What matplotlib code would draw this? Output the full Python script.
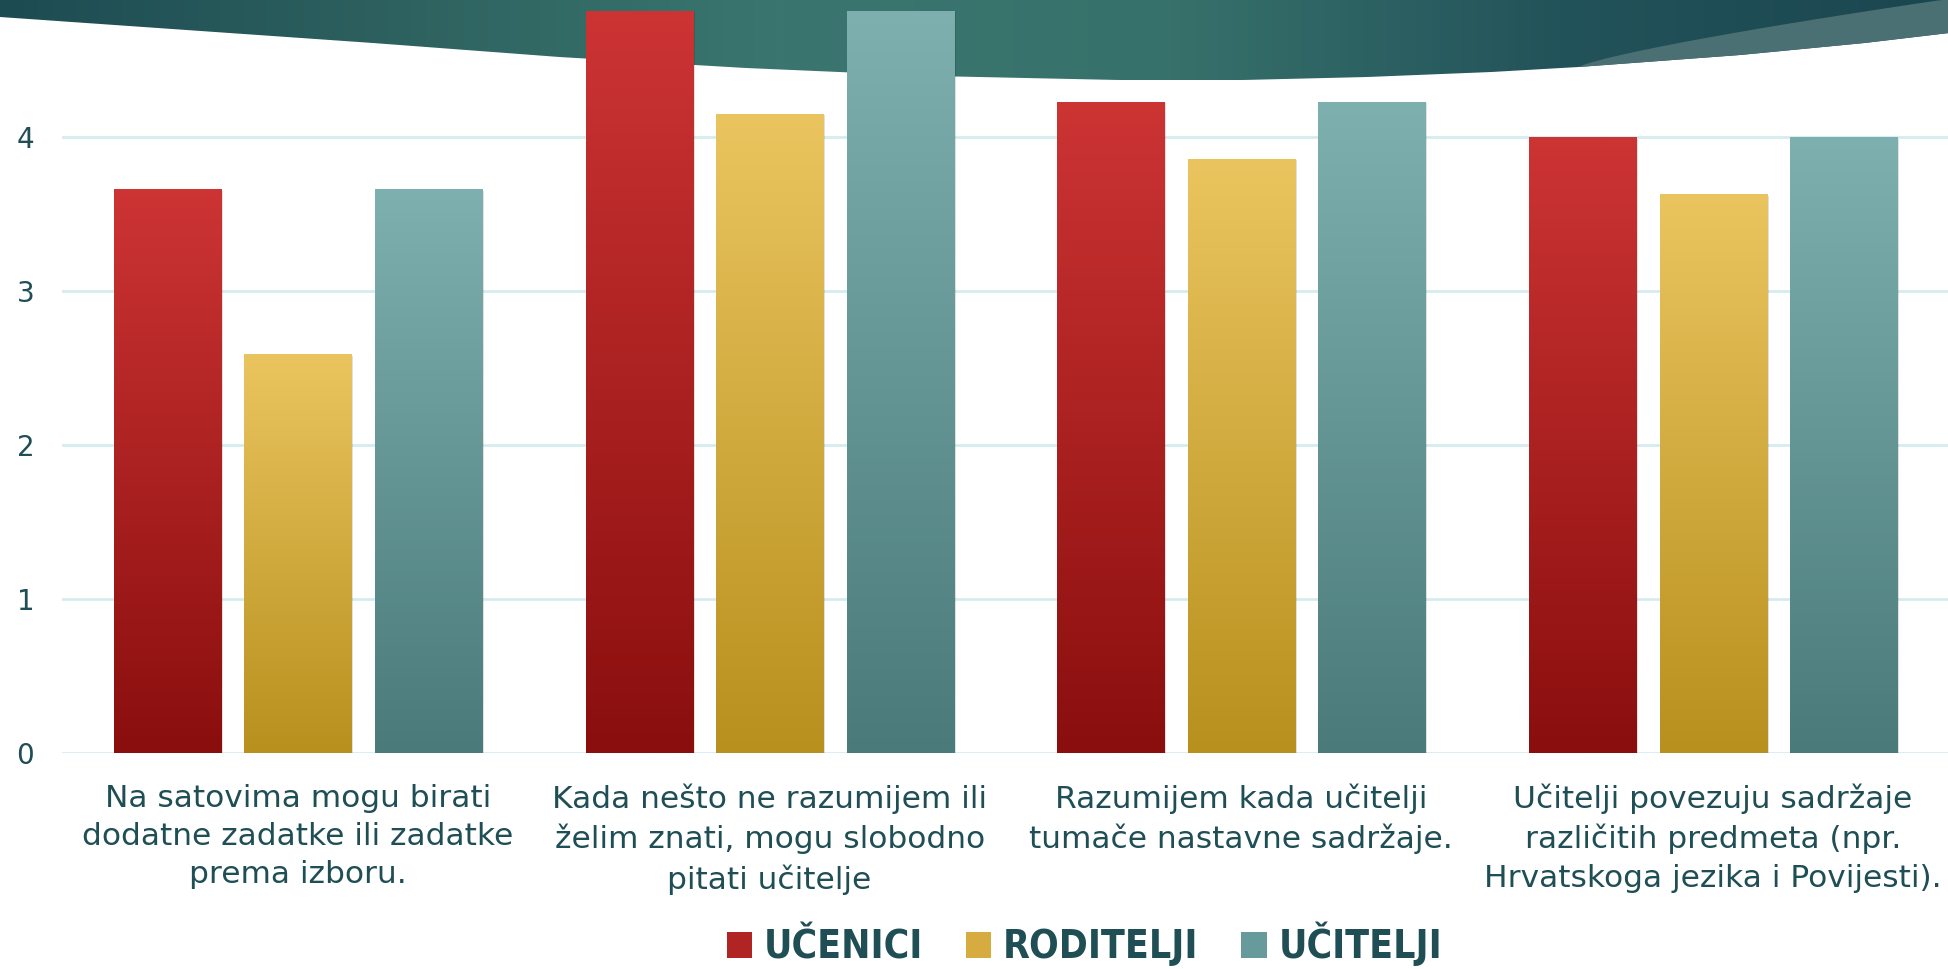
import numpy as np
import matplotlib
matplotlib.use("Agg")
import matplotlib.pyplot as plt
from matplotlib.colors import LinearSegmentedColormap
from matplotlib.patches import Polygon, Rectangle

# --- Data ---
categories = [
    "Na satovima mogu birati\ndodatne zadatke ili zadatke\nprema izboru.",
    "Kada nešto ne razumijem ili\nželim znati, mogu slobodno\npitati učitelje",
    "Razumijem kada učitelji\ntumače nastavne sadržaje.",
    "Učitelji povezuju sadržaje\nrazličitih predmeta (npr.\nHrvatskoga jezika i Povijesti).",
]
series_names = ["UČENICI", "RODITELJI", "UČITELJI"]
ucenici = [3.66, 4.82, 4.23, 4.00]
roditelji = [2.59, 4.15, 3.86, 3.63]
ucitelji = [3.66, 4.82, 4.23, 4.00]
yticks = [0, 1, 2, 3, 4]

# gradient (top, bottom) per series, plus a mid tone for the legend
grad_colors = [("#cd3434", "#8a0e0e"), ("#eac55f", "#b8901e"), ("#7fb0b0", "#4a7a7a")]
legend_colors = ["#b02424", "#d6ac40", "#679a9a"]
text_color = "#1f4e55"

W, H = 1949, 969
fig = plt.figure(figsize=(W / 100, H / 100), dpi=100)
fig.patch.set_facecolor("white")

# --- Background banner (slide decoration) ---
bg = fig.add_axes([0, 0, 1, 1], zorder=0)
bg.set_xlim(0, W)
bg.set_ylim(H, 0)
bg.axis("off")

s = W / 1568.0
curve_x = np.array([0, 150, 300, 450, 600, 750, 900, 1000, 1100, 1200, 1270, 1400, 1500, 1568]) * s
curve_y = np.array([17, 30, 43, 57, 68, 76, 80, 80, 77, 72, 67, 55, 43, 33])
xs = np.linspace(0, W, 300)
ys = np.interp(xs, curve_x, curve_y)
banner = Polygon(np.vstack([np.column_stack([xs, ys]), [[W, -5], [0, -5]]]), closed=True,
                 facecolor="none", edgecolor="none")
bg.add_patch(banner)
banner_cmap = LinearSegmentedColormap.from_list(
    "banner", ["#1d4b52", "#2d615f", "#3a766f", "#37716b", "#23535a", "#1a4650"])
im = bg.imshow(np.linspace(0, 1, 256)[None, :], cmap=banner_cmap, extent=[0, W, 90, -5],
               aspect="auto", zorder=1)
im.set_clip_path(banner)

# lighter wedge on the right
wx = np.linspace(1270 * s, W, 60)
wy_low = np.interp(wx, curve_x, curve_y)
wy_up = 67 * (1 - ((wx - 1270 * s) / (W - 8 - 1270 * s)) ** 0.8)
wy_up = np.clip(wy_up, 0, None)
wedge = Polygon(np.vstack([np.column_stack([wx, wy_up]), np.column_stack([wx[::-1], wy_low[::-1]])]),
                closed=True, facecolor="#4b7074", edgecolor="none", zorder=2)
bg.add_patch(wedge)

# --- Main chart ---
ax = fig.add_axes([62 / W, 1 - 753 / H, 1 - 62 / W, 753 / H], zorder=1)
ax.set_facecolor("none")
x = np.arange(len(categories))
offset = 0.2767
width = 0.227
all_series = [ucenici, roditelji, ucitelji]

for k, vals in enumerate(all_series):
    top, bottom = grad_colors[k]
    cmap = LinearSegmentedColormap.from_list("g%d" % k, [bottom, top])
    bars = ax.bar(x + (k - 1) * offset, vals, width, color="none", edgecolor="none", zorder=3)
    for b in bars:
        x0, h, w = b.get_x(), b.get_height(), b.get_width()
        # soft shadow
        ax.add_patch(Rectangle((x0 + 0.004, -0.04), w, h + 0.03, facecolor="#000000",
                               alpha=0.12, edgecolor="none", zorder=2))
        img = ax.imshow(np.linspace(0, 1, 256)[:, None], cmap=cmap, origin="lower",
                        extent=[x0, x0 + w, 0, h], aspect="auto", zorder=3)
        img.set_clip_path(b)

ax.set_xlim(-0.5, len(categories) - 0.5)
ax.set_ylim(0, 753 / 154)
ax.set_yticks(yticks)
ax.set_yticklabels([str(t) for t in yticks], fontsize=20, color=text_color, family="DejaVu Sans")
ax.yaxis.grid(True, color="#d5ecef", linewidth=2)
ax.set_axisbelow(True)
ax.set_xticks(x)
ax.set_xticklabels(categories, fontsize=22.5, color=text_color, family="DejaVu Sans",
                   linespacing=1.4)
ax.tick_params(axis="both", length=0)
ax.tick_params(axis="x", pad=22)
ax.tick_params(axis="y", pad=20)
for sp in ax.spines.values():
    sp.set_visible(False)

# --- Legend ---
handles = [Rectangle((0, 0), 1, 1, facecolor=c) for c in legend_colors]
leg = fig.legend(handles, series_names, loc="center", bbox_to_anchor=(0.5565, 1 - 944 / H), ncol=3,
                 frameon=False, handlelength=0.65, handleheight=0.65, handletextpad=0.3,
                 columnspacing=1.1, borderpad=0,
                 prop={"family": "DejaVu Sans", "stretch": "condensed", "weight": "bold", "size": 28})
for t in leg.get_texts():
    t.set_color(text_color)

fig.savefig("out.png", dpi=100)
